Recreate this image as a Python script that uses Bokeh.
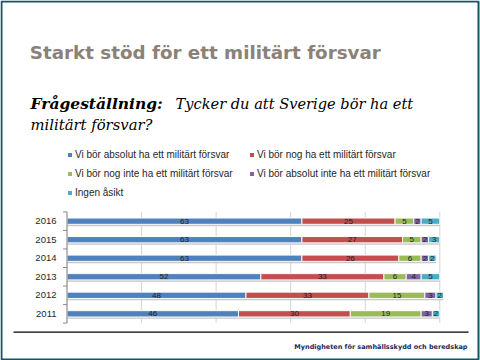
import numpy as np
from bokeh.plotting import figure
from bokeh.models import Range1d, Label, Legend, LegendItem, ColumnDataSource
from bokeh.core.properties import value
from bokeh.embed import file_html
from bokeh.resources import INLINE

# ---- data ----
years = ["2016", "2015", "2014", "2013", "2012", "2011"]          # top to bottom
absolut_ja = [63, 63, 63, 52, 48, 46]
nog_ja = [25, 27, 26, 33, 33, 30]
nog_nej = [5, 5, 6, 6, 15, 19]
absolut_nej = [2, 2, 2, 4, 3, 3]
ingen_asikt = [5, 3, 2, 5, 2, 2]
series_names = ["Vi bör absolut ha ett militärt försvar",
                "Vi bör nog ha ett militärt försvar",
                "Vi bör nog inte ha ett militärt försvar",
                "Vi bör absolut inte ha ett militärt försvar",
                "Ingen åsikt"]
grid_ticks = [0, 20, 40, 60, 80, 100]
title_text = "Starkt stöd för ett militärt försvar"
question_label = "Frågeställning:"
question_line1 = "Tycker du att Sverige bör ha ett"
question_line2 = "militärt försvar?"
footer_text = "Myndigheten för samhällsskydd och beredskap"

colors = ["#4F81BD", "#C0504D", "#9BBB59", "#8064A2", "#4BACC6"]
series = [absolut_ja, nog_ja, nog_nej, absolut_nej, ingen_asikt]

# ---- slide geometry (pixels) ----
W, H = 480, 360
PLOT_L, PLOT_R = 66.5, 439.3          # 0 % and 100 %
PLOT_T, PLOT_B = 211.4, 322.6         # top of first band, bottom of last band
px_pct = (PLOT_R - PLOT_L) / 100.0
n = len(years)
px_band = (PLOT_B - PLOT_T) / n

p = figure(width=W, height=H, output_backend="svg", toolbar_location=None,
           x_range=Range1d(0, W), y_range=Range1d(H, 0),
           x_axis_location=None, y_axis_location=None, min_border=0)
p.xgrid.visible = False
p.ygrid.visible = False
p.outline_line_color = None
p.background_fill_color = "white"
p.border_fill_color = "white"

# chart coordinate systems: percent along x, band index along y (0 = top)
p.extra_x_ranges = {"pct": Range1d(-PLOT_L / px_pct, (W - PLOT_L) / px_pct)}
p.extra_y_ranges = {"band": Range1d((H - PLOT_T) / px_band, -PLOT_T / px_band)}
ch = dict(x_range_name="pct", y_range_name="band")

ypos = np.arange(n) + 0.5

# vertical grid lines
p.segment(x0=grid_ticks, x1=grid_ticks, y0=[0] * len(grid_ticks), y1=[n] * len(grid_ticks),
          line_color="#d4d4d4", line_width=1, **ch)

# stacked bars with a soft shadow
bar_h = 0.34
left = np.zeros(n)
legend_items = []
for vals, col, name in zip(series, colors, series_names):
    vals = np.array(vals, dtype=float)
    right = left + vals
    src = ColumnDataSource(dict(y=ypos, ys=ypos + 0.1, left=left.copy(), right=right.copy(),
                                mid=(left + right) / 2, lab=[str(int(v)) for v in vals]))
    p.hbar(y="ys", left="left", right="right", height=bar_h, source=src,
           fill_color="#c8c8c8", line_color=None, **ch)
    # solid fill (also used as the legend swatch), then the outlined segment on top
    sw = p.hbar(y="y", left="left", right="right", height=bar_h, source=src,
                fill_color=col, line_color=None, **ch)
    p.hbar(y="y", left="left", right="right", height=bar_h, source=src,
           fill_color=col, line_color="white", line_width=1, **ch)
    p.text(x="mid", y="y", text="lab", source=src, text_align="center", text_baseline="middle",
           text_font=value("Liberation Sans"), text_font_size="8px", text_color="#1e1e1e", **ch)
    legend_items.append(LegendItem(label=name, renderers=[sw]))
    left = right

# category axis: line, boundary ticks, year labels
tick_len = 4 / px_pct
bounds = np.arange(n + 1)
p.segment(x0=[0], x1=[0], y0=[0], y1=[n], line_color="#8a8a8a", line_width=1, **ch)
p.segment(x0=[-tick_len] * (n + 1), x1=[0] * (n + 1), y0=bounds, y1=bounds,
          line_color="#8a8a8a", line_width=1, **ch)
p.text(x=[0] * n, y=ypos, text=years, x_offset=-10.5, text_align="right", text_baseline="middle",
       text_font=value("Liberation Sans"), text_font_size="9.5px", text_color="#262626", **ch)

legend = Legend(items=legend_items,
                location=(67, 162), orientation="horizontal", ncols=2,
                glyph_width=5, glyph_height=5, label_standoff=3, label_height=12,
                label_width=167, spacing=7, padding=0, margin=0,
                label_text_font="Liberation Sans", label_text_font_size="10px",
                label_text_color="#262626", border_line_color=None, background_fill_alpha=0)
p.add_layout(legend)

def slide_label(x, y, text, **kw):
    p.add_layout(Label(x=x, y=y, text=text, text_baseline="alphabetic", **kw))

slide_label(29.3, 51.7, title_text, text_font="DejaVu Sans", text_font_style="bold",
            text_font_size="18.3px", text_color="#8a8178")
slide_label(30, 103.3, question_label, text_font="DejaVu Serif", text_font_style="bold italic",
            text_font_size="15.5px", text_color="black")
slide_label(175, 103.3, question_line1, text_font="DejaVu Serif", text_font_style="italic",
            text_font_size="14.6px", text_color="black")
slide_label(30, 124.3, question_line2, text_font="DejaVu Serif", text_font_style="italic",
            text_font_size="14.8px", text_color="black")
slide_label(467, 346, footer_text, text_align="right", text_font="DejaVu Sans",
            text_font_style="bold", text_font_size="6.5px", text_color="#1c2a5a")

# rule above the footer and slide frame
p.segment(x0=[13], x1=[468], y0=[331.7], y1=[331.7], line_color="black", line_width=1.3)
p.quad(left=[1], right=[478], top=[1], bottom=[359], fill_color=None,
       line_color="#175266", line_width=2)

open("out.html", "w").write(file_html(p, INLINE))
